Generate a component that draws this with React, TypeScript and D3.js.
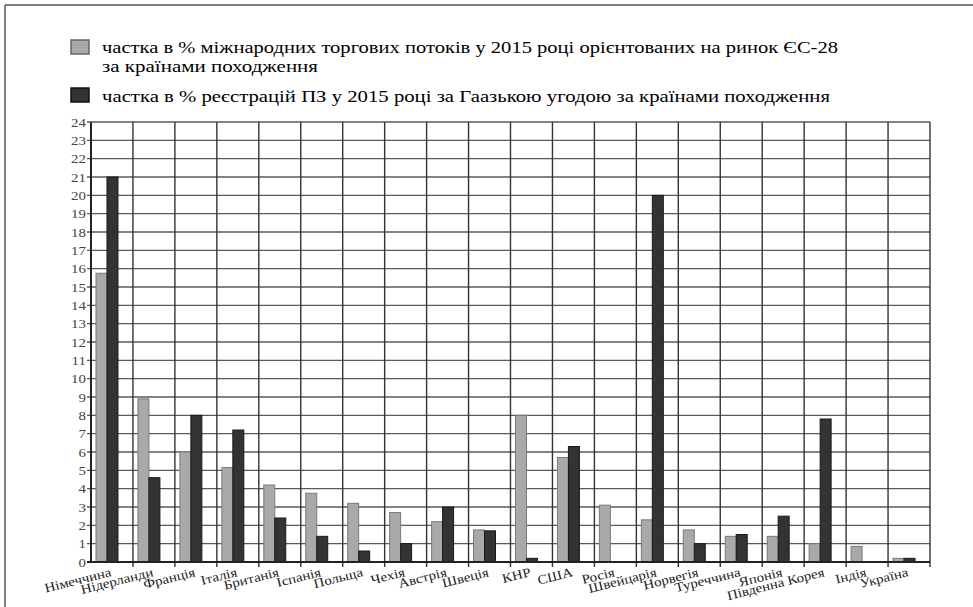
import React from 'react'
import * as d3 from 'd3'

const countries = [
  'Німеччина', 'Нідерланди', 'Франція', 'Італія', 'Британія', 'Іспанія', 'Польща', 'Чехія',
  'Австрія', 'Швеція', 'КНР', 'США', 'Росія', 'Швейцарія', 'Норвегія', 'Туреччина',
  'Японія', 'Південна Корея', 'Індія', 'Україна',
]
const tradeShare = [15.75, 8.9, 6.0, 5.15, 4.2, 3.75, 3.2, 2.7, 2.2, 1.75, 8.0, 5.7, 3.1, 2.3, 1.75, 1.4, 1.4, 1.0, 0.85, 0.2]
const hagueShare = [21.0, 4.6, 8.0, 7.2, 2.4, 1.4, 0.6, 1.0, 3.0, 1.7, 0.2, 6.3, 0, 20.0, 1.0, 1.5, 2.5, 7.8, 0, 0.2]
const yTicks = d3.range(0, 25)
const seriesNames = ['trade', 'hague']
const legendLabels = [
  ['частка в % міжнародних торгових потоків у 2015 році орієнтованих на ринок ЄС-28', 'за країнами походження'],
  ['частка в % реєстрацій ПЗ у 2015 році за Гаазькою угодою за країнами походження'],
]

const W = 973
const H = 607
const left = 91
const right = 930
const top = 122
const bottom = 562
const font = "'Liberation Serif', 'DejaVu Serif', serif"

const App: React.FC = () => {
  const x = d3.scaleBand<string>().domain(countries).range([left, right])
  const bw = x.bandwidth()
  const inner = d3.scaleBand<string>().domain(seriesNames).range([bw * 5 / 42, bw * 27 / 42])
  const y = d3.scaleLinear().domain([0, 24]).range([bottom, top])

  const fills = { trade: '#a9a9a9', hague: '#333333' }
  const strokes = { trade: '#7a7a7a', hague: '#1a1a1a' }
  const values = { trade: tradeShare, hague: hagueShare }

  return (
    <svg width={W} height={H} style={{ position: 'absolute', left: 0, top: 0, background: '#fff', fontFamily: font }}>
      {/* outer frame */}
      <line x1={5} x2={W} y1={5} y2={5} stroke="#555" strokeWidth={1.5} />
      <line x1={5} x2={5} y1={5} y2={H} stroke="#555" strokeWidth={1.5} />

      {/* legend */}
      <rect x={71} y={40} width={18} height={14} fill={fills.trade} stroke="#666" strokeWidth={1.5} />
      <text x={102} y={53} fontSize={17} textLength={736} lengthAdjust="spacingAndGlyphs" fill="#000">{legendLabels[0][0]}</text>
      <text x={102} y={72} fontSize={17} textLength={216} lengthAdjust="spacingAndGlyphs" fill="#000">{legendLabels[0][1]}</text>
      <rect x={71} y={88} width={18} height={14} fill={fills.hague} stroke="#111" strokeWidth={1.5} />
      <text x={102} y={102} fontSize={17} textLength={728} lengthAdjust="spacingAndGlyphs" fill="#000">{legendLabels[1][0]}</text>

      {/* horizontal grid + y ticks */}
      {yTicks.map(t => (
        <g key={t}>
          <line x1={left - 4} x2={right} y1={y(t)} y2={y(t)} stroke={t === 0 ? '#222' : '#5a5a5a'} strokeWidth={t === 0 ? 2 : 1.4} />
          <text transform={`translate(${left - 5},${y(t)}) scale(1.15,1)`} dy="0.35em" textAnchor="end" fontSize={13} fill="#444">{t}</text>
        </g>
      ))}

      {/* vertical grid */}
      {countries.map((c, i) => (
        <line key={c} x1={x(c)!} x2={x(c)!} y1={top} y2={bottom + (i === 0 ? 0 : 5)} stroke="#333" strokeWidth={1.4} />
      ))}
      <line x1={right} x2={right} y1={top} y2={bottom + 5} stroke="#333" strokeWidth={1.4} />
      <line x1={left} x2={left} y1={top} y2={bottom} stroke="#222" strokeWidth={2} />

      {/* bars */}
      {countries.map((c, i) => (
        <g key={c} transform={`translate(${x(c)},0)`}>
          {seriesNames.map(s => {
            const v = values[s as 'trade' | 'hague'][i]
            if (v <= 0) return null
            return (
              <rect
                key={s}
                x={inner(s)}
                y={y(v)}
                width={inner.bandwidth()}
                height={y(0) - y(v)}
                fill={fills[s as 'trade' | 'hague']}
                stroke={strokes[s as 'trade' | 'hague']}
                strokeWidth={1}
              />
            )
          })}
        </g>
      ))}
      <line x1={left} x2={right} y1={bottom} y2={bottom} stroke="#222" strokeWidth={2} />

      {/* category labels */}
      {countries.map(c => (
        <text
          key={c}
          transform={`translate(${x(c)! + bw / 2},${bottom + 14}) rotate(-14) scale(1.15,1)`}
          textAnchor="end"
          fontSize={13}
          fill="#222"
        >
          {c}
        </text>
      ))}
    </svg>
  )
}

export default App
